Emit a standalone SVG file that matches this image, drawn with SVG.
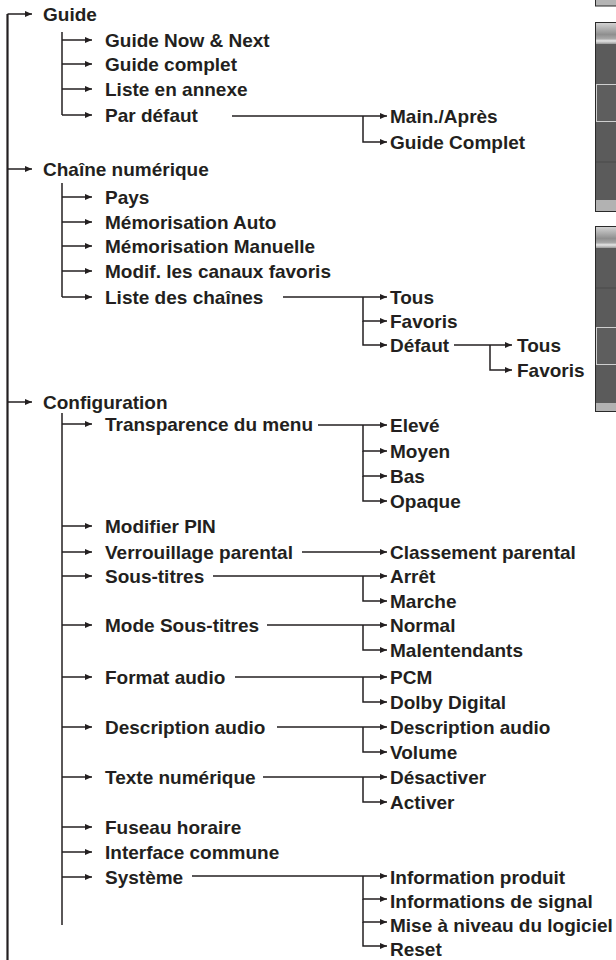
<svg xmlns="http://www.w3.org/2000/svg" width="616" height="960" viewBox="0 0 616 960">
<style>
text{font-family:"Liberation Sans",Arial,sans-serif;font-weight:bold;font-size:19px;fill:#231f20}
.c{fill:none;stroke:#231f20;stroke-width:1.5}
.a{fill:none;stroke:#231f20;stroke-width:1.5;marker-end:url(#ah)}
.root{fill:none;stroke:#231f20;stroke-width:2.2}
</style>
<defs>
<marker id="ah" markerUnits="userSpaceOnUse" markerWidth="8" markerHeight="7" refX="7" refY="3" orient="auto"><path d="M0,0 L7,3 L0,6 z" fill="#231f20"/></marker>
<linearGradient id="hdr" x1="0" y1="0" x2="0" y2="1">
<stop offset="0" stop-color="#d2d2d2"/><stop offset="0.55" stop-color="#8e8e8e"/><stop offset="0.75" stop-color="#a8a8a8"/><stop offset="0.85" stop-color="#e6e6e6"/><stop offset="1" stop-color="#9a9a9a"/>
</linearGradient>
</defs>

<g id="panels">
<rect x="595.5" y="-3" width="25" height="9" fill="#b4b4b4" stroke="#2a2a2a"/>
<rect x="595.5" y="22.5" width="25" height="189" fill="#5b5b5b" stroke="#2a2a2a"/>
<rect x="596" y="23" width="24" height="21" fill="url(#hdr)"/>
<rect x="596.5" y="84.5" width="24" height="37" fill="#5e5e5e" stroke="#cfcfcf"/>
<line x1="596" y1="162" x2="616" y2="162" stroke="#4a4a4a"/>
<rect x="596" y="200" width="24" height="11" fill="#b2b2b2"/>
<rect x="595.5" y="226.5" width="25" height="185" fill="#5b5b5b" stroke="#2a2a2a"/>
<rect x="596" y="227" width="24" height="21" fill="url(#hdr)"/>
<line x1="596" y1="288" x2="616" y2="288" stroke="#4a4a4a"/>
<rect x="596.5" y="327.5" width="24" height="37" fill="#5e5e5e" stroke="#cfcfcf"/>
<rect x="596" y="403" width="24" height="8" fill="#b2b2b2"/>
</g>

<g id="connectors">
<path class="root" d="M7.5,960 V14"/>
<path class="a" d="M7.5,14 H32"/>
<path class="a" d="M7.5,169 H32"/>
<path class="a" d="M7.5,402 H32"/>

<path class="c" d="M62,32 V115"/>
<path class="a" d="M62,40 H92"/>
<path class="a" d="M62,64 H92"/>
<path class="a" d="M62,89 H92"/>
<path class="a" d="M62,115 H92"/>
<path class="a" d="M232,116 H387"/>
<path class="a" d="M363,116 V142 H387"/>

<path class="c" d="M62,183 V297"/>
<path class="a" d="M62,197 H92"/>
<path class="a" d="M62,222 H92"/>
<path class="a" d="M62,246 H92"/>
<path class="a" d="M62,271 H92"/>
<path class="a" d="M62,297 H92"/>
<path class="a" d="M283,297 H387"/>
<path class="a" d="M363,297 V321 H387"/>
<path class="a" d="M363,321 V345 H387"/>
<path class="a" d="M454,345 H512"/>
<path class="a" d="M490,345 V370 H512"/>

<path class="c" d="M62,413 V925"/>
<path class="a" d="M62,424 H92"/>
<path class="a" d="M62,526 H92"/>
<path class="a" d="M62,552 H92"/>
<path class="a" d="M62,576 H92"/>
<path class="a" d="M62,625 H92"/>
<path class="a" d="M62,677 H92"/>
<path class="a" d="M62,727 H92"/>
<path class="a" d="M62,777 H92"/>
<path class="a" d="M62,827 H92"/>
<path class="a" d="M62,852 H92"/>
<path class="a" d="M62,877 H92"/>

<path class="a" d="M318,425 H387"/>
<path class="a" d="M363,425 V451 H387"/>
<path class="a" d="M363,451 V476 H387"/>
<path class="a" d="M363,476 V501 H387"/>
<path class="a" d="M302,552 H387"/>
<path class="a" d="M213,576 H387"/>
<path class="a" d="M363,576 V601 H387"/>
<path class="a" d="M267,625 H387"/>
<path class="a" d="M363,625 V650 H387"/>
<path class="a" d="M235,677 H387"/>
<path class="a" d="M363,677 V702 H387"/>
<path class="a" d="M277,727 H387"/>
<path class="a" d="M363,727 V752 H387"/>
<path class="a" d="M263,777 H387"/>
<path class="a" d="M363,777 V802 H387"/>
<path class="a" d="M192,876 H387"/>
<path class="a" d="M363,876 V899 H387"/>
<path class="a" d="M363,899 V922 H387"/>
<path class="a" d="M363,922 V946 H387"/>
</g>

<g id="n-guide"><text x="43" y="21">Guide</text></g>
<g id="n-guide-now"><text x="105" y="47">Guide Now &amp; Next</text></g>
<g id="n-guide-complet"><text x="105" y="71">Guide complet</text></g>
<g id="n-liste-annexe"><text x="105" y="96">Liste en annexe</text></g>
<g id="n-par-defaut"><text x="105" y="122">Par défaut</text></g>
<g id="n-main-apres"><text x="390" y="123">Main./Après</text></g>
<g id="n-guide-complet2"><text x="390" y="149">Guide Complet</text></g>

<g id="n-chaine"><text x="43" y="176">Chaîne numérique</text></g>
<g id="n-pays"><text x="105" y="204">Pays</text></g>
<g id="n-memo-auto"><text x="105" y="229">Mémorisation Auto</text></g>
<g id="n-memo-man"><text x="105" y="253">Mémorisation Manuelle</text></g>
<g id="n-modif"><text x="105" y="278">Modif. les canaux favoris</text></g>
<g id="n-liste-chaines"><text x="105" y="304">Liste des chaînes</text></g>
<g id="n-tous1"><text x="390" y="304">Tous</text></g>
<g id="n-favoris1"><text x="390" y="328">Favoris</text></g>
<g id="n-defaut"><text x="390" y="352">Défaut</text></g>
<g id="n-tous2"><text x="517" y="352">Tous</text></g>
<g id="n-favoris2"><text x="517" y="377">Favoris</text></g>

<g id="n-config"><text x="43" y="409">Configuration</text></g>
<g id="n-transp"><text x="105" y="431">Transparence du menu</text></g>
<g id="n-eleve"><text x="390" y="432">Elevé</text></g>
<g id="n-moyen"><text x="390" y="458">Moyen</text></g>
<g id="n-bas"><text x="390" y="483">Bas</text></g>
<g id="n-opaque"><text x="390" y="508">Opaque</text></g>
<g id="n-pin"><text x="105" y="533">Modifier PIN</text></g>
<g id="n-verrou"><text x="105" y="559">Verrouillage parental</text></g>
<g id="n-classement"><text x="390" y="559">Classement parental</text></g>
<g id="n-soustitres"><text x="105" y="583">Sous-titres</text></g>
<g id="n-arret"><text x="390" y="583">Arrêt</text></g>
<g id="n-marche"><text x="390" y="608">Marche</text></g>
<g id="n-mode-st"><text x="105" y="632">Mode Sous-titres</text></g>
<g id="n-normal"><text x="390" y="632">Normal</text></g>
<g id="n-malent"><text x="390" y="657">Malentendants</text></g>
<g id="n-format"><text x="105" y="684">Format audio</text></g>
<g id="n-pcm"><text x="390" y="684">PCM</text></g>
<g id="n-dolby"><text x="390" y="709">Dolby Digital</text></g>
<g id="n-desc"><text x="105" y="734">Description audio</text></g>
<g id="n-desc2"><text x="390" y="734">Description audio</text></g>
<g id="n-volume"><text x="390" y="759">Volume</text></g>
<g id="n-texte"><text x="105" y="784">Texte numérique</text></g>
<g id="n-desact"><text x="390" y="784">Désactiver</text></g>
<g id="n-activer"><text x="390" y="809">Activer</text></g>
<g id="n-fuseau"><text x="105" y="834">Fuseau horaire</text></g>
<g id="n-interface"><text x="105" y="859">Interface commune</text></g>
<g id="n-systeme"><text x="105" y="884">Système</text></g>
<g id="n-info-prod"><text x="390" y="884">Information produit</text></g>
<g id="n-info-sig"><text x="390" y="908">Informations de signal</text></g>
<g id="n-mise"><text x="390" y="932">Mise à niveau du logiciel</text></g>
<g id="n-reset"><text x="390" y="956">Reset</text></g>
</svg>
